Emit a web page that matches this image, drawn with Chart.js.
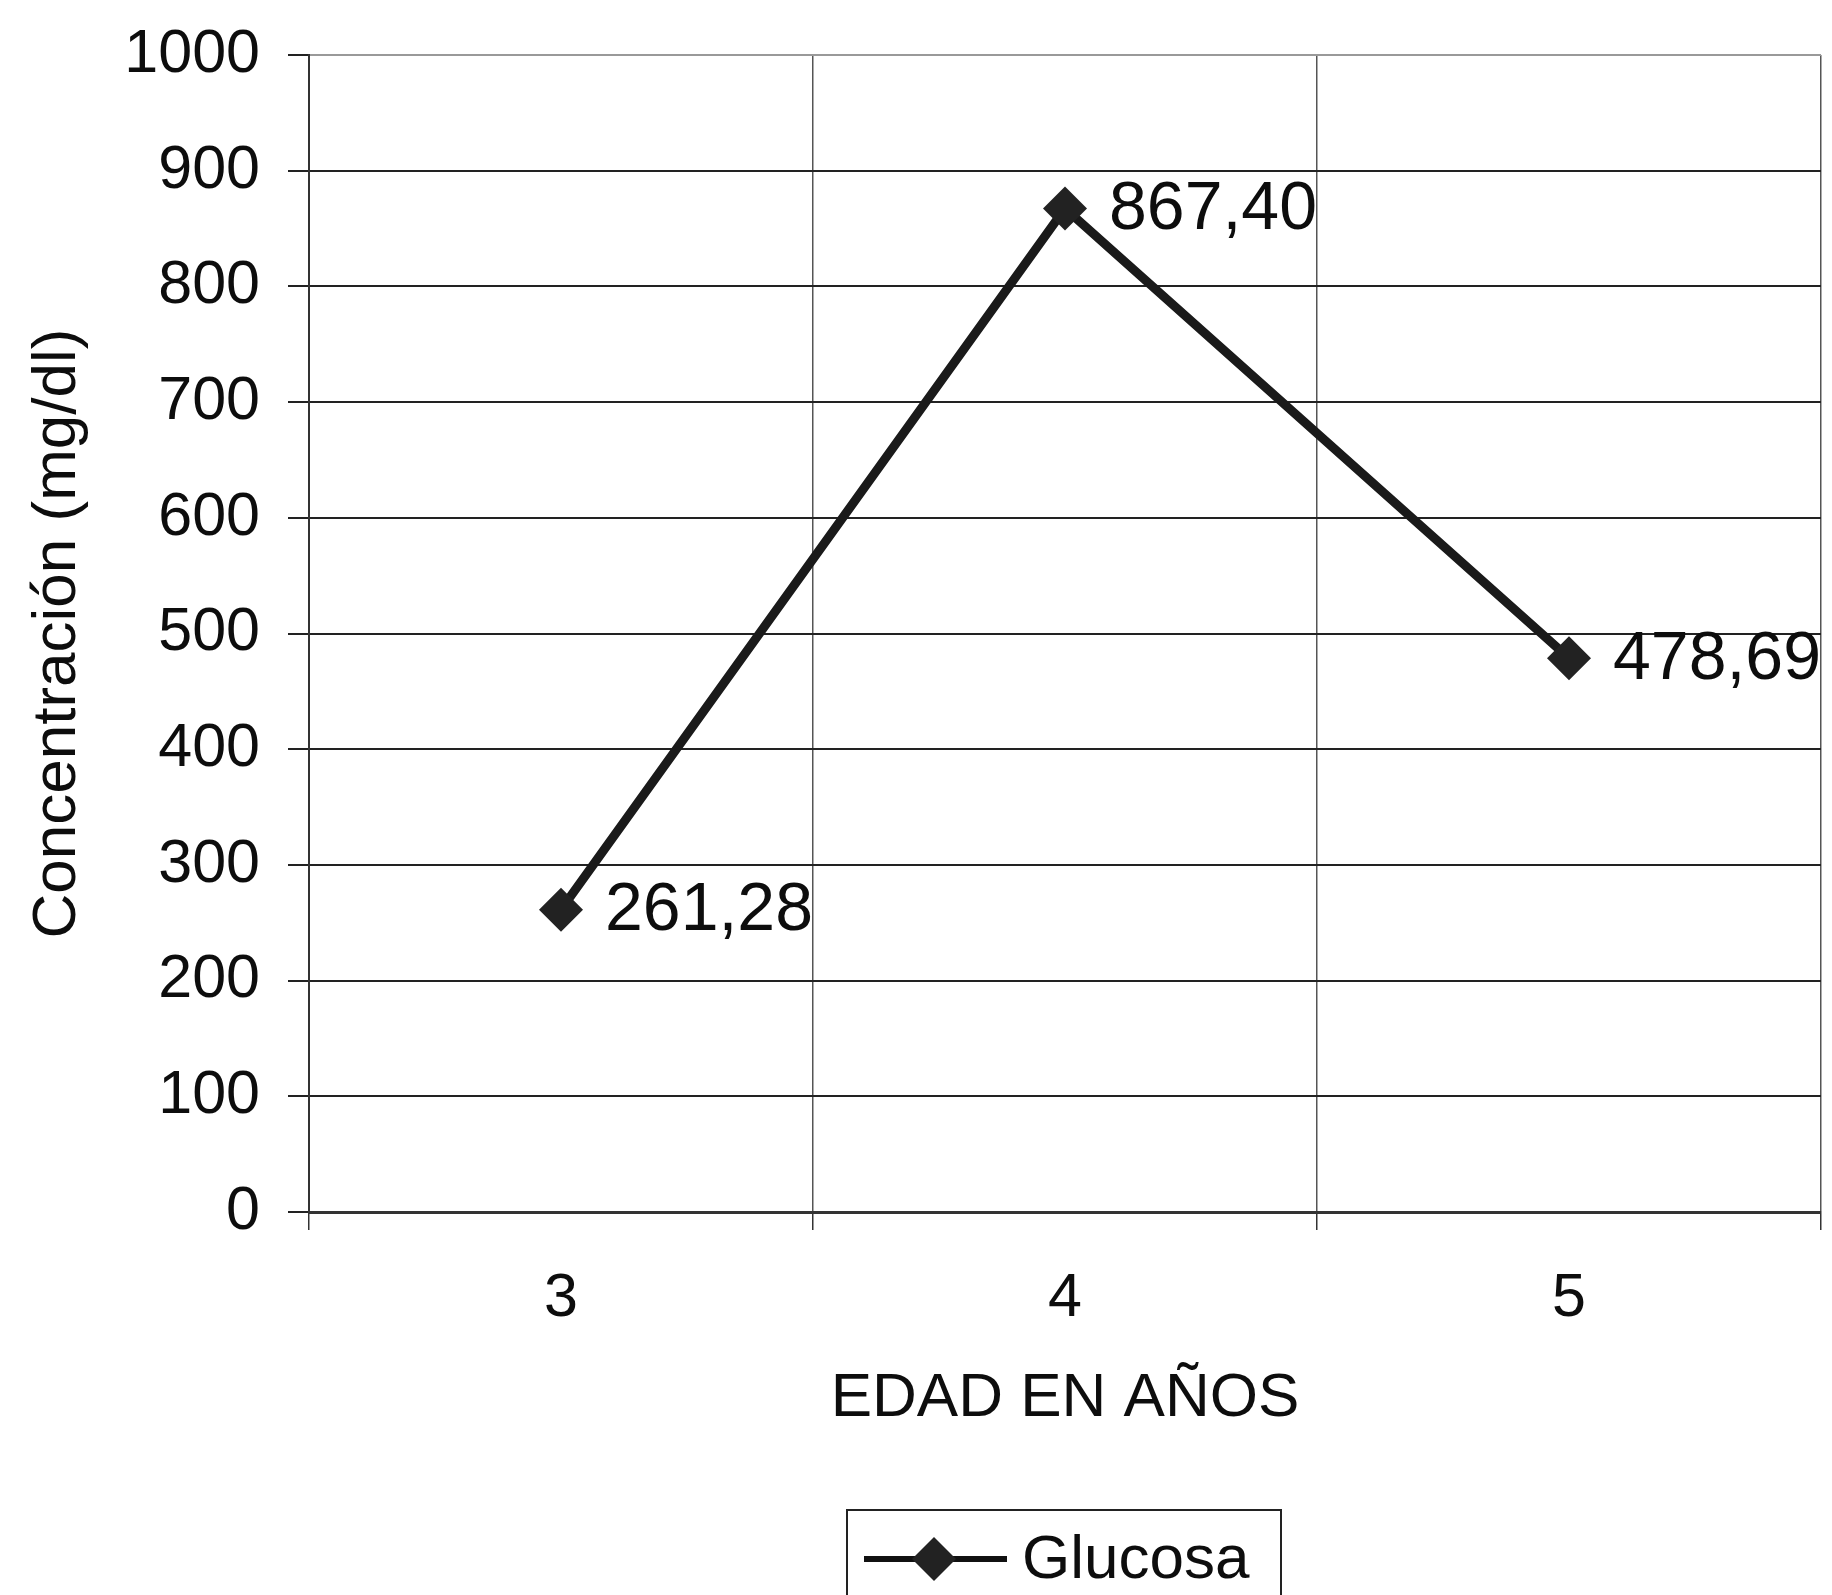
<!DOCTYPE html>
<html>
<head>
<meta charset="utf-8">
<script src="https://cdn.jsdelivr.net/npm/chart.js@4.4.1/dist/chart.umd.min.js"></script>
<style>
  html, body { margin: 0; padding: 0; background: #fff; overflow: hidden; }
  #wrap { width: 1832px; height: 1595px; position: relative; }
  canvas { display: block; }
</style>
</head>
<body>
<div id="wrap"><canvas id="c"></canvas></div>
<script>
const edades = ['3', '4', '5'];
const glucosa = [261.28, 867.40, 478.69];
const serieNombre = 'Glucosa';
const yTitulo = 'Concentración (mg/dl)';
const xTitulo = 'EDAD EN AÑOS';

const FONT = "'Liberation Sans', Arial, sans-serif";

// etiquetas de valor a la derecha de cada punto
const valueLabels = {
  id: 'valueLabels',
  afterDatasetsDraw(chart) {
    const ctx = chart.ctx;
    const meta = chart.getDatasetMeta(0);
    ctx.save();
    ctx.font = `68px ${FONT}`;
    ctx.fillStyle = '#0d0d0d';
    ctx.textAlign = 'left';
    ctx.textBaseline = 'middle';
    meta.data.forEach((p, i) => {
      const v = chart.data.datasets[0].data[i];
      ctx.fillText(v.toFixed(2).replace('.', ','), p.x + 44, p.y + 2);
    });
    ctx.restore();
  }
};

// leyenda con recuadro, abajo al centro
const boxLegend = {
  id: 'boxLegend',
  afterDraw(chart) {
    const ctx = chart.ctx;
    const ds = chart.data.datasets[0];
    ctx.save();
    ctx.strokeStyle = '#222';
    ctx.lineWidth = 2;
    ctx.strokeRect(847, 1510, 434, 110);
    const y = 1559;
    ctx.strokeStyle = '#111';
    ctx.lineWidth = 6;
    ctx.beginPath();
    ctx.moveTo(864, y);
    ctx.lineTo(1007, y);
    ctx.stroke();
    ctx.fillStyle = '#222';
    ctx.beginPath();
    ctx.moveTo(934, y - 22);
    ctx.lineTo(956, y);
    ctx.lineTo(934, y + 22);
    ctx.lineTo(912, y);
    ctx.closePath();
    ctx.fill();
    ctx.fillStyle = '#0d0d0d';
    ctx.font = `62px ${FONT}`;
    ctx.textAlign = 'left';
    ctx.textBaseline = 'middle';
    ctx.fillText(ds.label, 1022, y + 2);
    ctx.restore();
  }
};

new Chart(document.getElementById('c'), {
  type: 'line',
  data: {
    labels: edades,
    datasets: [{
      label: serieNombre,
      data: glucosa,
      borderColor: '#1a1a1a',
      backgroundColor: '#222',
      borderWidth: 9,
      pointStyle: 'rectRot',
      pointRadius: 22,
      pointBorderWidth: 0,
      pointBackgroundColor: '#222',
      tension: 0,
    }],
  },
  options: {
    responsive: true,
    maintainAspectRatio: false,
    animation: false,
    layout: { autoPadding: false, padding: { top: 55, right: 11, left: 0, bottom: 0 } },
    plugins: { legend: { display: false }, tooltip: { enabled: false } },
    scales: {
      x: {
        offset: true,
        grid: {
          offset: true,
          color: (c) => c.index === 3 ? '#999' : '#555',
          lineWidth: 1.5,
          tickLength: 18,
          tickColor: '#333',
        },
        border: { color: '#333', width: 3 },
        ticks: { color: '#0d0d0d', font: { family: FONT, size: 61 }, padding: 33 },
        title: {
          display: true, text: xTitulo, color: '#0d0d0d',
          font: { family: FONT, size: 62 }, padding: { top: 0, bottom: 159 },
        },
        afterFit: (s) => { s.height = 383; s.paddingLeft = 0; s.paddingRight = 0; },
      },
      y: {
        min: 0,
        max: 1000,
        ticks: {
          stepSize: 100, color: '#0d0d0d', font: { family: FONT, size: 61 }, padding: 28,
          callback: (v) => String(v),
        },
        grid: {
          color: (c) => c.tick && c.tick.value === 1000 ? '#999' : '#222',
          lineWidth: 2,
          tickLength: 21,
          tickColor: '#222',
        },
        border: { color: '#333', width: 2 },
        title: {
          display: true, text: yTitulo, color: '#0d0d0d',
          font: { family: FONT, size: 62 }, padding: { top: 21, bottom: 0 },
        },
        afterFit: (s) => { s.width = 309; s.paddingTop = 0; s.paddingBottom = 0; },
      },
    },
  },
  plugins: [valueLabels, boxLegend],
});
</script>
</body>
</html>
